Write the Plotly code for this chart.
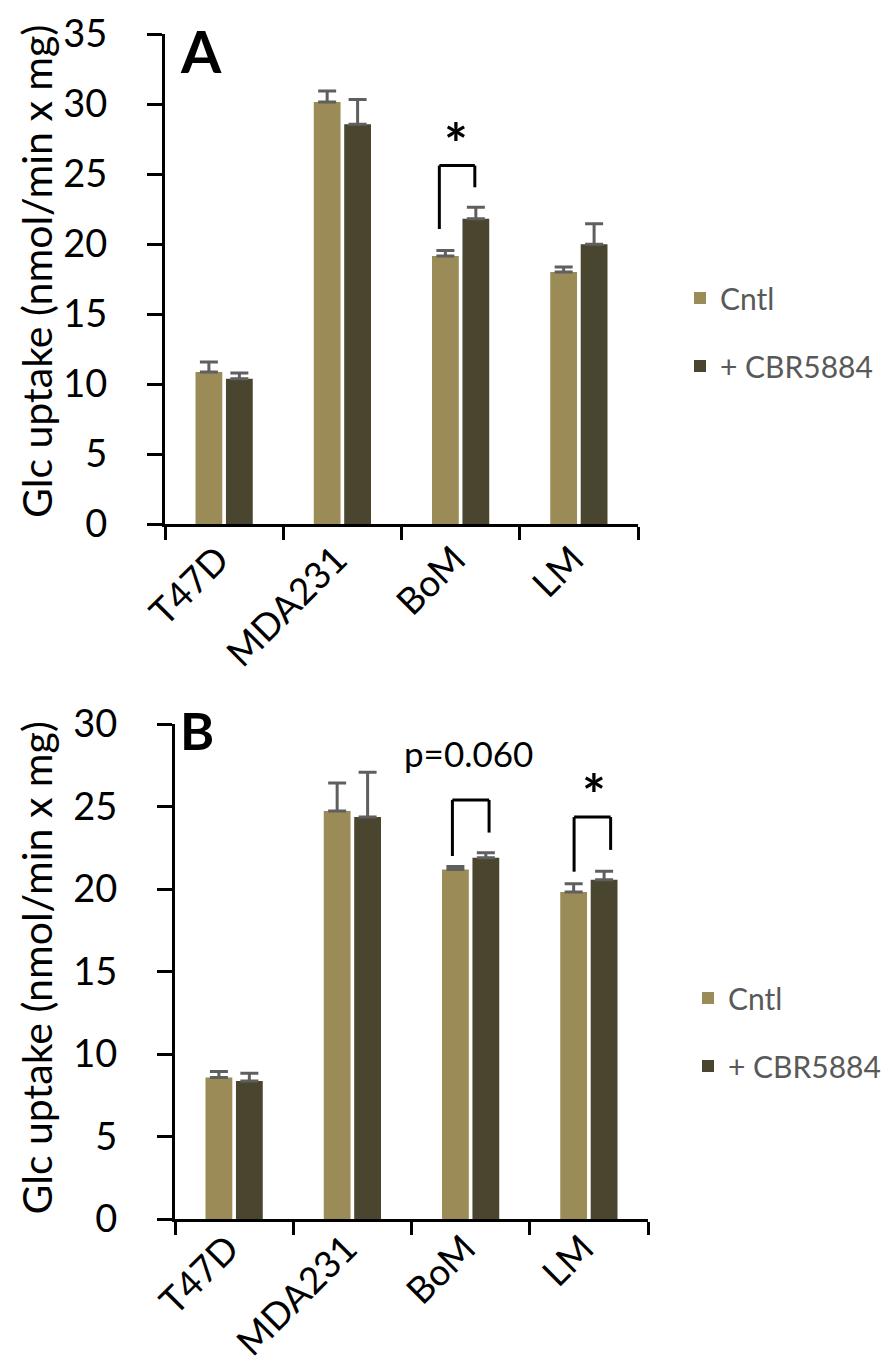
import plotly.graph_objects as go

# ---------------- data ----------------
categories = ["T47D", "MDA231", "BoM", "LM"]
series_names = ["Cntl", "+ CBR5884"]

# Panel A
a_cntl = [10.85, 30.15, 19.15, 18.0]
a_cntl_err = [0.72, 0.78, 0.38, 0.36]
a_cbr = [10.38, 28.55, 21.8, 19.98]
a_cbr_err = [0.4, 1.78, 0.83, 1.47]
a_yticks = [0, 5, 10, 15, 20, 25, 30, 35]

# Panel B
b_cntl = [8.58, 24.72, 21.18, 19.82]
b_cntl_err = [0.36, 1.7, 0.19, 0.5]
b_cbr = [8.37, 24.36, 21.89, 20.56]
b_cbr_err = [0.46, 2.72, 0.31, 0.52]
b_yticks = [0, 5, 10, 15, 20, 25, 30]

# significance brackets: (category, label, left-leg bottom, right-leg bottom, top, label centre)
a_brackets = [("BoM", "*", 21.07, 24.05, 25.6, 27.4)]
b_brackets = [("BoM", "p=0.060", 22.0, 23.42, 25.4, 28.25),
              ("LM", "*", 21.05, 22.37, 24.36, 25.9)]

y_title = "Glc uptake (nmol/min x mg)"

# ---------------- styles ----------------
C_CNTL = "#9A8B57"
C_CBR = "#4A452E"
ERR_C = "#5F5F5F"
FONT = "Lato"
W, H = 894, 1366

fig = go.Figure()


def add_panel(xa, ya, legend, cntl, cntl_err, cbr, cbr_err):
    for name, vals, errs, col in [(series_names[0], cntl, cntl_err, C_CNTL),
                                  (series_names[1], cbr, cbr_err, C_CBR)]:
        fig.add_trace(go.Bar(
            x=categories, y=vals, name=name, xaxis=xa, yaxis=ya,
            legend=legend, legendgroup=legend + name,
            marker=dict(color=col, line=dict(width=0)),
            error_y=dict(type="data", array=errs, arrayminus=[0] * len(errs),
                         symmetric=False, color=ERR_C, thickness=3, width=9),
        ))


add_panel("x", "y", "legend", a_cntl, a_cntl_err, a_cbr, a_cbr_err)
add_panel("x2", "y2", "legend2", b_cntl, b_cntl_err, b_cbr, b_cbr_err)

axis_common = dict(showline=True, linecolor="black", linewidth=3,
                   ticks="outside", tickcolor="black", tickwidth=3,
                   showgrid=False, zeroline=False, automargin=False)
yfont = dict(family=FONT, size=38, color="black")
xfont = dict(family=FONT, size=37, color="black")

A_dom_x = [157 / W, 630 / W]
A_dom_y = [1 - 516 / H, 1 - 26 / H]
B_dom_x = [167 / W, 640 / W]
B_dom_y = [1 - 1211 / H, 1 - 716 / H]

leg_font = dict(family=FONT, size=30, color="#595959")

xaxis_extra = dict(type="category", range=[-0.5, 3.5], tickson="boundaries", ticklen=13,
                   tickangle=-45, tickfont=xfont, ticklabelshift=-6)
yaxis_extra = dict(ticklen=15, ticklabelstandoff=32, tickfont=yfont, ticklabeloverflow="allow")

fig.update_layout(
    width=W, height=H,
    margin=dict(l=0, r=0, t=0, b=0),
    paper_bgcolor="white", plot_bgcolor="white",
    barmode="group", bargap=0.485, bargroupgap=0.12,
    xaxis=dict(domain=A_dom_x, anchor="y", ticklabelstandoff=-4, **xaxis_extra, **axis_common),
    yaxis=dict(domain=A_dom_y, anchor="x", range=[0, 35], tickvals=a_yticks,
               **yaxis_extra, **axis_common),
    xaxis2=dict(domain=B_dom_x, anchor="y2", ticklabelstandoff=-10, **xaxis_extra, **axis_common),
    yaxis2=dict(domain=B_dom_y, anchor="x2", range=[0, 30], tickvals=b_yticks,
                **yaxis_extra, **axis_common),
    legend=dict(x=672 / W, y=1 - 264 / H, xanchor="left", yanchor="top",
                font=leg_font, tracegroupgap=26, traceorder="grouped",
                bgcolor="rgba(0,0,0,0)"),
    legend2=dict(x=680 / W, y=1 - 964 / H, xanchor="left", yanchor="top",
                 font=leg_font, tracegroupgap=26, traceorder="grouped",
                 bgcolor="rgba(0,0,0,0)"),
    showlegend=True,
)

# brackets + labels
idx = {c: i for i, c in enumerate(categories)}


def add_brackets(brackets, xr, yr, offs, label_sizes):
    for (cat, lab, yl, yr_b, ytop, ylab), (dl, dr, dlab), ls in zip(brackets, offs, label_sizes):
        i = idx[cat]
        xl, xrt = i + dl, i + dr
        line = dict(color="black", width=3)
        fig.add_shape(type="line", xref=xr, yref=yr, x0=xl, x1=xl, y0=yl, y1=ytop, line=line)
        fig.add_shape(type="line", xref=xr, yref=yr, x0=xl, x1=xrt, y0=ytop, y1=ytop, line=line)
        fig.add_shape(type="line", xref=xr, yref=yr, x0=xrt, x1=xrt, y0=yr_b, y1=ytop, line=line)
        star = lab == "*"
        fig.add_annotation(xref=xr, yref=yr, x=i + dlab, y=ylab,
                           text=("<b>*</b>" if star else lab),
                           showarrow=False, yanchor="middle", yshift=(-2 if star else 0),
                           font=dict(family=FONT, size=ls, color="black"))


add_brackets(a_brackets, "x", "y", [(-0.18, 0.12, -0.04)], [56])
add_brackets(b_brackets, "x2", "y2", [(-0.154, 0.156, -0.02), (-0.125, 0.184, 0.04)], [35, 56])

# panel letters
fig.add_annotation(xref="paper", yref="paper", x=170 / W, y=1 - 6 / H, text="<b>A</b>",
                   showarrow=False, xanchor="left", yanchor="top",
                   font=dict(family=FONT, size=58, color="black"))
fig.add_annotation(xref="paper", yref="paper", x=170 / W, y=1 - 722 / H, text="<b>B</b>",
                   showarrow=False, xanchor="left", yanchor="middle",
                   font=dict(family=FONT, size=52, color="black"))

# y-axis titles
for yc in [(12 + 516) / 2, (708 + 1213) / 2]:
    fig.add_annotation(xref="paper", yref="paper", x=28 / W, y=1 - yc / H, text=y_title,
                       textangle=-90, showarrow=False, xanchor="center", yanchor="middle",
                       font=dict(family=FONT, size=41, color="black"))

fig.write_html("out.html")
